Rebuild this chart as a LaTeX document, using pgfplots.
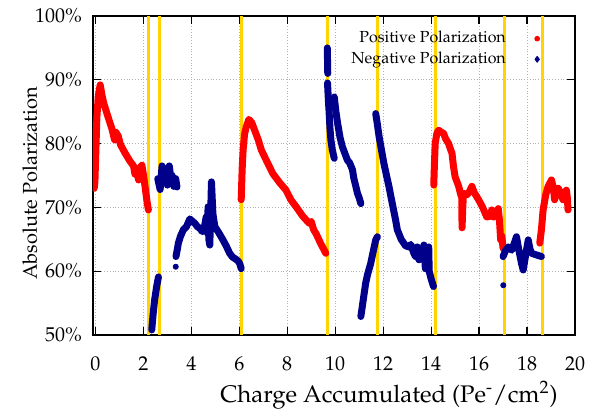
\documentclass[border=0pt]{standalone}
\usepackage[T1]{fontenc}
\usepackage{mathpazo}
\usepackage{pgfplots}
\pgfplotsset{compat=1.18}
\definecolor{posred}{RGB}{255,0,0}
\definecolor{negblue}{RGB}{0,0,139}
\definecolor{gold}{RGB}{255,212,0}
\begin{document}
\begin{tikzpicture}
\useasboundingbox (-46.5pt,-37.5pt) rectangle (248.5pt,167.5pt);
\begin{axis}[
  at={(0,0)}, anchor=south west,
  scale only axis,
  width=241pt, height=159.5pt,
  xmin=-0.1, xmax=20, ymin=50, ymax=100,
  xtick={0,2,...,20}, ytick={50,60,...,100},
  yticklabel={\pgfmathprintnumber{\tick}\%},
  grid=major,
  major grid style={densely dotted, gray!60, line width=0.5pt},
  tick align=inside,
  major tick length=4pt,
  tick style={black, line width=0.6pt},
  axis line style={line width=0.8pt},
  xticklabel style={yshift=-7.25pt},
  yticklabel style={xshift=-2pt},
  xlabel={Charge Accumulated (Pe\textsuperscript{-}/cm\textsuperscript{2})},
  ylabel={Absolute Polarization},
  xlabel style={at={(axis description cs:0.614,-0.212)}, anchor=base, font=\large},
  ylabel style={at={(axis description cs:-0.131,0.475)}, anchor=center},
  legend style={at={(rel axis cs:1,1)}, anchor=north east, xshift=-14.5pt, yshift=-3.5pt,
    draw=none, fill=none, font=\footnotesize, column sep=12.5pt, row sep=-1pt},
  legend cell align=right,
  legend plot pos=right,
  every axis plot/.append style={line width=3.5pt, line join=round, line cap=round},
]
\addlegendimage{only marks, mark=*, posred, mark size=1.2pt, line width=0.4pt}
\addlegendentry{Positive Polarization}
\addlegendimage{only marks, mark=diamond*, negblue, mark size=1.5pt, line width=0.4pt}
\addlegendentry{Negative Polarization}

% yellow markers
\addplot[gold, line width=1.5pt, line cap=butt, forget plot] coordinates {(2.2,50) (2.2,100)};
\addplot[gold, line width=1.5pt, line cap=butt, forget plot] coordinates {(2.67,50) (2.67,100)};
\addplot[gold, line width=1.5pt, line cap=butt, forget plot] coordinates {(6.08,50) (6.08,100)};
\addplot[gold, line width=1.5pt, line cap=butt, forget plot] coordinates {(9.67,50) (9.67,100)};
\addplot[gold, line width=1.5pt, line cap=butt, forget plot] coordinates {(11.75,50) (11.75,100)};
\addplot[gold, line width=1.5pt, line cap=butt, forget plot] coordinates {(14.17,50) (14.17,100)};
\addplot[gold, line width=1.5pt, line cap=butt, forget plot] coordinates {(17.08,50) (17.08,100)};
\addplot[gold, line width=1.5pt, line cap=butt, forget plot] coordinates {(18.63,50) (18.63,100)};

% positive
\addplot[posred, forget plot] coordinates {(-0.05,73.0) (-0.02,74) (0.02,79) (0.06,84) (0.12,87.5) (0.2,89.2) (0.28,87.5) (0.35,86.3) (0.5,84.5) (0.69,82.3) (0.8,80.6) (0.85,81.8) (0.95,81.2) (1.05,79.8) (1.24,78.5) (1.45,77.2) (1.59,76.5) (1.65,75.2) (1.72,76) (1.8,74.3) (1.87,76.3) (1.94,76.6) (2.0,75.2) (2.08,73.0) (2.15,71) (2.21,69.6)};
\addplot[posred, forget plot] coordinates {(6.08,71.2) (6.12,76) (6.16,79) (6.22,81.5) (6.29,82.6) (6.4,83.8) (6.52,83.3) (6.64,82.1) (6.8,80.5) (6.92,79) (7.15,77.2) (7.4,75.3) (7.7,73.8) (7.95,72.7) (8.15,71.2) (8.37,70.1) (8.65,68.6) (8.92,67.5) (9.0,67.8) (9.1,66.5) (9.2,65.9) (9.4,64.3) (9.61,62.8)};
\addplot[posred, forget plot] coordinates {(14.11,73.5) (14.14,77) (14.17,80) (14.24,81.6) (14.31,82.1) (14.42,81.8) (14.52,81.6) (14.6,80.8) (14.73,80) (14.8,79.2) (14.87,78.5) (14.93,76.5) (15.0,74.8) (15.15,73.3) (15.22,72.2) (15.28,71.5) (15.29,66.8) (15.32,70) (15.35,72.2) (15.5,72) (15.6,72.5) (15.7,73.3) (15.8,72.3) (15.98,71.2) (16.15,70) (16.32,68.5) (16.45,68.6) (16.53,69.6) (16.6,68.5) (16.7,69) (16.8,69.8) (16.85,68) (16.9,64.9) (16.95,65.5) (17.0,63.6)};
\addplot[posred, forget plot] coordinates {(18.53,64.4) (18.6,66.5) (18.67,69.6) (18.78,72) (18.88,73.3) (19.02,74.3) (19.1,73) (19.15,71.2) (19.22,72.2) (19.3,73) (19.4,72.3) (19.5,71.2) (19.58,72.2) (19.64,72.7) (19.68,71.5) (19.71,69.6)};

% negative
\addplot[negblue, forget plot] coordinates {(2.35,50.8) (2.4,53) (2.47,55.5) (2.55,57.5) (2.63,59.1)};
\addplot[negblue, forget plot] coordinates {(2.6,74.5) (2.7,72.8) (2.78,76.5) (2.85,74) (2.92,75.5) (3.0,73.5) (3.08,76.5) (3.15,74.5) (3.2,75) (3.27,73.3) (3.35,74.5) (3.4,73.2)};
\addplot[negblue, forget plot] coordinates {(3.36,62.3) (3.42,63.5) (3.46,64.4) (3.55,65.5) (3.67,66.5) (3.8,67) (3.94,68.2) (4.05,67.8) (4.15,67.5) (4.25,67) (4.36,66.7) (4.46,66.2) (4.56,67.2) (4.62,68.5) (4.66,66) (4.7,70.1) (4.73,65) (4.77,64.1) (4.8,68) (4.84,74) (4.9,69) (4.98,67) (5.15,66) (5.32,64.9) (5.45,64) (5.6,62.8) (5.72,62.2) (5.81,62) (5.95,61.6) (6.02,61.2) (6.08,60.4)};
\addplot[negblue, forget plot] coordinates {(9.67,95) (9.68,93) (9.69,91)};
\addplot[negblue, forget plot] coordinates {(9.68,89.5) (9.72,86.5) (9.75,84.7) (9.78,82.5) (9.82,80.6) (9.88,79) (9.96,77.7)};
\addplot[negblue, forget plot] coordinates {(9.96,87.3) (10.03,85) (10.1,83.2) (10.2,81) (10.3,79.5) (10.4,78.5) (10.51,77.4) (10.6,77) (10.72,75.9) (10.78,74.5) (10.86,73.3) (10.93,72.2) (11.0,71.5) (11.07,70.6)};
\addplot[negblue, forget plot] coordinates {(11.07,52.9) (11.15,55) (11.27,58.1) (11.35,59.5) (11.48,61.2) (11.58,63) (11.69,64.9) (11.76,65.4)};
\addplot[negblue, forget plot] coordinates {(11.69,84.7) (11.76,83) (11.83,81.1) (11.93,79) (12.03,76.9) (12.14,75) (12.24,73.3) (12.35,71.2) (12.45,69.3) (12.52,68) (12.59,66.5) (12.75,65) (12.93,64) (13.07,63.8) (13.15,64.2) (13.28,62.8) (13.35,62.3) (13.42,63.8) (13.49,61.8) (13.6,62.5) (13.7,64.1) (13.76,60.4) (13.83,62) (13.9,63.8) (13.92,60) (14.0,58.8) (14.1,57.6)};
\addplot[negblue, forget plot] coordinates {(17.0,62.3) (17.1,63.2) (17.22,63.8) (17.36,63.3) (17.48,64.5) (17.56,65.4) (17.65,63.5) (17.77,61.2) (17.84,60.2) (17.92,62) (18.05,64.9) (18.12,63.5) (18.19,62.8) (18.35,62.6) (18.6,62.3)};
\addplot[negblue, only marks, mark=*, mark size=1.3pt, line width=0.4pt, forget plot] coordinates {(3.35,60.7) (17.01,57.8)};
\end{axis}
\end{tikzpicture}
\end{document}
